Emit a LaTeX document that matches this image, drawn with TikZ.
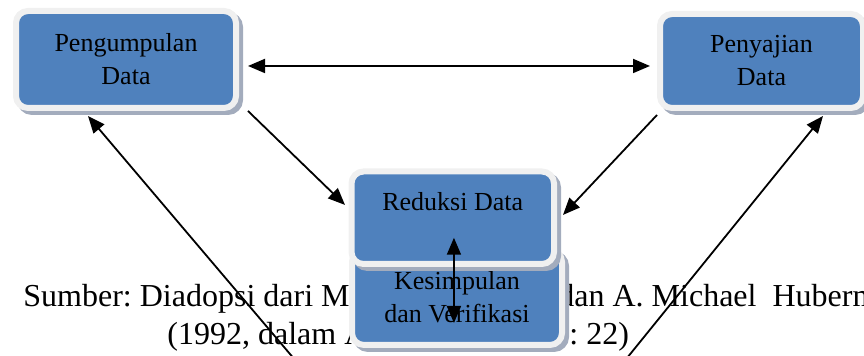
\documentclass[tikz,border=0pt]{standalone}
\usepackage{fontspec}
\setmainfont{Liberation Serif}
\usetikzlibrary{arrows.meta,shadows}
\definecolor{kotakbiru}{HTML}{4F81BD}
\definecolor{kotaktepi}{HTML}{F0F0F0}
\definecolor{kotakbayang}{HTML}{A3ACBD}
\frenchspacing
\tikzset{
  kotak/.style={rectangle, rounded corners=6pt, fill=kotakbiru, draw=kotaktepi,
    line width=3pt, align=center, inner sep=0pt,
    font=\fontsize{13}{16.5}\selectfont,
    drop shadow={shadow xshift=2pt, shadow yshift=-2pt, fill=kotakbayang,
      draw=kotakbayang, line width=3pt, opacity=1}},
  sumber/.style={anchor=base west, inner sep=0pt, font=\fontsize{16}{20}\selectfont},
  panah/.style={line width=.9pt, -{Triangle[length=8.5pt,width=7pt]}},
  panahdua/.style={line width=.9pt, {Triangle[length=8.5pt,width=7pt]}-{Triangle[length=8.5pt,width=7pt]}}
}
\begin{document}
\begin{tikzpicture}[x=.5pt, y=-.5pt]
    \path[use as bounding box, clip] (0,0) rectangle (864,356);
    \node[sumber] (s1) at (23,307) {Sumber: Diadopsi dari M};
    \node[sumber] (s2) at (558,307) {dan A. Michael\ \ Huberman};
    \node[sumber] (s3) at (167,345) {(1992, dalam A};
    \node[sumber] (s4) at (569,345) {: 22)};
    \node[kotak, minimum width=110pt, minimum height=48.5pt] (pengumpulan) at (126,59.5) {Pengumpulan\\Data};
    \node[kotak, minimum width=101.5pt, minimum height=47pt] (penyajian) at (761.5,61) {Penyajian\\Data};
    \node[kotak, minimum width=105pt, minimum height=47.5pt] (kesimpulan) at (457,297.5) {Kesimpulan\\dan Verifikasi};
    \node[kotak, minimum width=101.25pt, minimum height=46.25pt] (reduksi) at (452.75,217.75) {Reduksi Data\\\mbox{}};
    \coordinate (bawahkiri) at (329,400);
    \coordinate (bawahkanan) at (593,400);
    \draw[panahdua] ([xshift=4.5pt,yshift=-3.25pt]pengumpulan.east) -- ([xshift=-3.5pt,yshift=-2.5pt]penyajian.west);
    \draw[panah] ([xshift=4.5pt]pengumpulan.south east) -- ([xshift=-1.75pt,yshift=6.4pt]reduksi.west);
    \draw[panah] ([yshift=-2pt]penyajian.south west) -- ([xshift=3pt,yshift=1.4pt]reduksi.east);
    \draw[panahdua] ([xshift=.6pt,yshift=-10pt]reduksi.center) -- ([xshift=.6pt,yshift=-12.75pt]reduksi.center |- kesimpulan.center);
    \draw[panah] (bawahkiri) -- ([xshift=-19pt,yshift=-2.5pt]pengumpulan.south);
    \draw[panah] (bawahkanan) -- ([xshift=30.75pt,yshift=-2.5pt]penyajian.south);
\end{tikzpicture}
\end{document}
